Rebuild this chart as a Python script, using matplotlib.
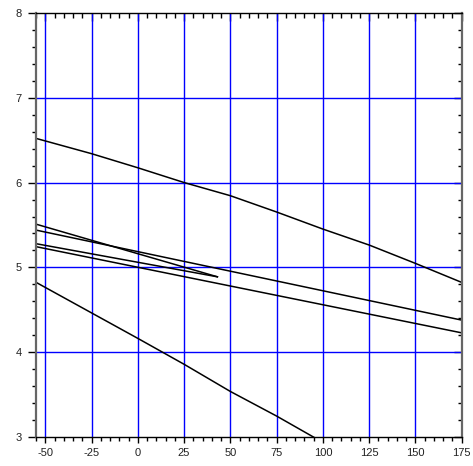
import matplotlib
matplotlib.use("Agg")
import matplotlib.pyplot as plt
from matplotlib.ticker import MultipleLocator

# Data
line_a_x = [-55, -25, 0, 25, 50, 75, 100, 125, 150, 175]
line_a_y = [6.52, 6.34, 6.174, 6.0, 5.845, 5.653, 5.452, 5.264, 5.048, 4.824]

line_b_x = [-55, 43]
line_b_y = [5.51, 4.89]

line_c_x = [-55, 175]
line_c_y = [5.44, 4.38]

line_d_x = [-55, 43]
line_d_y = [5.28, 4.89]

line_e_x = [-55, 175]
line_e_y = [5.245, 4.23]

line_f_x = [-55, 0, 25, 50, 75, 100]
line_f_y = [4.825, 4.165, 3.86, 3.54, 3.25, 2.94]

x_ticks = [-50, -25, 0, 25, 50, 75, 100, 125, 150, 175]
y_ticks = [3, 4, 5, 6, 7, 8]

plt.rcParams['font.family'] = ['Liberation Sans', 'DejaVu Sans']

fig = plt.figure(figsize=(4.73, 4.66), dpi=100)
ax = fig.add_axes([36/473, 1-437.3/466, (461.7-36)/473, (437.3-12.7)/466])

ax.set_xlim(-55, 175)
ax.set_ylim(3, 8)

# grid
for xv in x_ticks:
    ax.axvline(xv, color='#0000ff', lw=1.0, zorder=1)
for yv in y_ticks[1:-1]:
    ax.axhline(yv, color='#0000ff', lw=1.0, zorder=1)

for xs, ys in [(line_a_x, line_a_y), (line_b_x, line_b_y), (line_c_x, line_c_y),
               (line_d_x, line_d_y), (line_e_x, line_e_y), (line_f_x, line_f_y)]:
    ax.plot(xs, ys, color='black', lw=1.1, zorder=3)

ax.set_xticks(x_ticks)
ax.set_yticks(y_ticks)
ax.set_xticklabels([str(v) for v in x_ticks], fontsize=8, color='#222222')
ax.set_yticklabels([str(v) for v in y_ticks], fontsize=8, color='#222222')
ax.xaxis.set_minor_locator(MultipleLocator(5))
ax.yaxis.set_minor_locator(MultipleLocator(0.2))

ax.tick_params(axis='x', which='major', direction='out', length=4.5, width=1, pad=3.5,
               top=False, bottom=True)
ax.tick_params(axis='x', which='minor', direction='out', length=3, width=1,
               top=False, bottom=True)
ax.tick_params(axis='y', which='major', direction='out', length=5.5, width=1, pad=5,
               left=True, right=False)
ax.tick_params(axis='y', which='minor', direction='out', length=3, width=1,
               left=True, right=False)

# inward ticks on top and right via secondary axes
top = ax.secondary_xaxis('top')
top.set_xticks(x_ticks)
top.set_xticklabels([])
top.xaxis.set_minor_locator(MultipleLocator(5))
top.tick_params(which='major', direction='in', length=6, width=1)
top.tick_params(which='minor', direction='in', length=3.5, width=1)
top.spines['top'].set_visible(False)

right = ax.secondary_yaxis('right')
right.set_yticks(y_ticks)
right.set_yticklabels([])
right.yaxis.set_minor_locator(MultipleLocator(0.2))
right.tick_params(which='major', direction='in', length=6, width=1)
right.tick_params(which='minor', direction='in', length=3, width=1)
right.spines['right'].set_visible(False)

for s in ['left', 'right']:
    ax.spines[s].set_color('#666666')
    ax.spines[s].set_linewidth(1.6)
for s in ['top', 'bottom']:
    ax.spines[s].set_color('black')
    ax.spines[s].set_linewidth(1.0)
for sp in ax.spines.values():
    sp.set_zorder(5)

fig.savefig('out.png', dpi=100)
